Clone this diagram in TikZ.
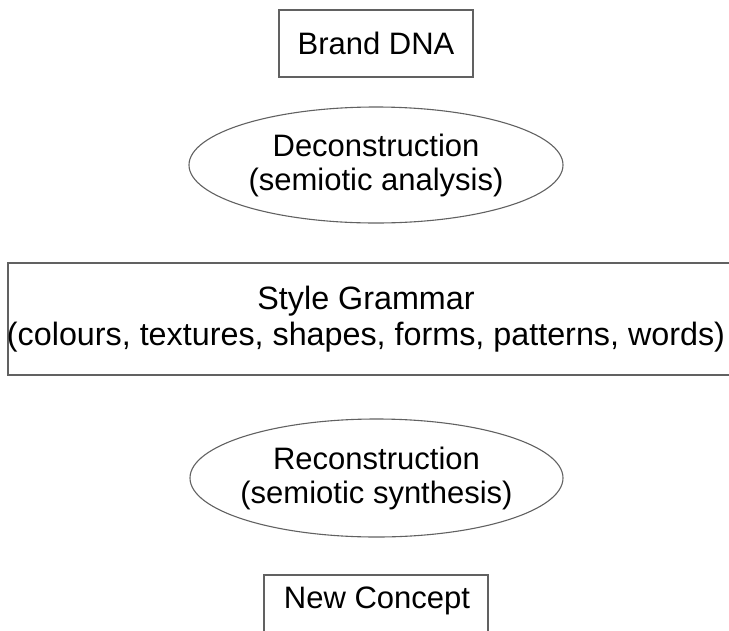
\documentclass[tikz,border=0pt]{standalone}
\usepackage{fontspec}
\setmainfont{Liberation Sans}
\usetikzlibrary{shapes.geometric}
\begin{document}
\begin{tikzpicture}[x=1pt,y=-1pt,
  outline/.style={draw=black!62, line width=1.1pt},
  boxnode/.style={outline, rectangle, inner sep=0pt},
  ellnode/.style={outline, ellipse, inner ysep=0pt, inner xsep=-12pt},
  lbl/.style={font=\fontsize{31}{34}\selectfont, align=center, text=black}]
\useasboundingbox (0,0) rectangle (729,630);
\node[boxnode, lbl, minimum width=194pt, minimum height=67pt] (brand) at (376,43.5) {Brand DNA};
\node[ellnode, lbl, minimum width=374pt, minimum height=116pt] (decon) at (376,165) {Deconstruction\\(semiotic analysis)};
\draw[outline] (8,263) rectangle (745,375);
\node[lbl, font=\fontsize{32.3}{36}\selectfont] (grammar) at (366,319) {Style Grammar\\(colours, textures, shapes, forms, patterns, words)};
\node[ellnode, lbl, minimum width=373pt, minimum height=118pt] (recon) at (376.5,478) {Reconstruction\\(semiotic synthesis)};
\draw[outline] (264,650) |- (488,575) -- (488,650);
\node[lbl] (concept) at (377,601) {New Concept};
\end{tikzpicture}
\end{document}
